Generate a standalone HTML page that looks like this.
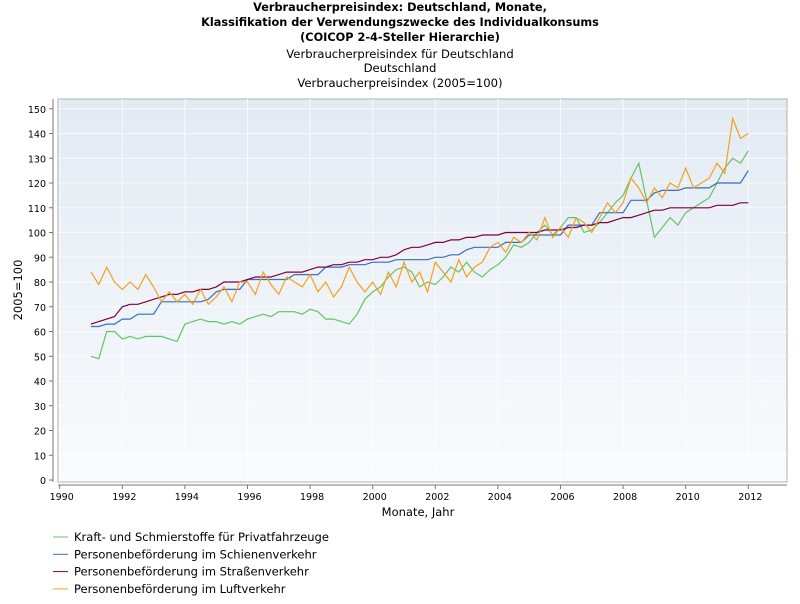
<!DOCTYPE html>
<html><head><meta charset="utf-8"><style>
body{margin:0;background:#fff;font-family:"DejaVu Sans","Liberation Sans",sans-serif;}
svg text{font-family:"DejaVu Sans","Liberation Sans",sans-serif;}
</style></head><body>
<svg id="c" width="800" height="600" xmlns="http://www.w3.org/2000/svg">
<defs><linearGradient id="bg" x1="0" y1="0" x2="0" y2="1"><stop offset="0" stop-color="#e2eaf2"/><stop offset="1" stop-color="#f9fbfd"/></linearGradient></defs>
<g font-size="11.3" font-weight="bold" text-anchor="middle" fill="#000">
<text x="400" y="11">Verbraucherpreisindex: Deutschland, Monate,</text>
<text x="400" y="26">Klassifikation der Verwendungszwecke des Individualkonsums</text>
<text x="400" y="41">(COICOP 2-4-Steller Hierarchie)</text>
</g>
<g font-size="11.6" text-anchor="middle" fill="#000">
<text x="400" y="58">Verbraucherpreisindex für Deutschland</text>
<text x="400" y="72">Deutschland</text>
<text x="400" y="87">Verbraucherpreisindex (2005=100)</text>
</g>
<rect x="58" y="99" width="729" height="383" fill="url(#bg)" stroke="#b0b0b0"/>
<g id="grid"></g><g id="axes"></g><g id="series"></g>
<text transform="translate(22,290) rotate(-90)" font-size="11.5" text-anchor="middle">2005=100</text>
<text x="418" y="516" font-size="11.5" text-anchor="middle">Monate, Jahr</text>
<g id="legend"></g>
</svg>
<script>
const startYear=1991;
const green=[50,49,60,60,57,58,57,58,58,58,57,56,63,64,65,64,64,63,64,63,65,66,67,66,68,68,68,67,69,68,65,65,64,63,67,73,76,78,82,85,86,84,78,80,79,82,86,84,88,84,82,85,87,90,95,94,96,100,103,99,102,106,106,100,101,104,108,112,115,122,128,113,98,102,106,103,108,110,112,114,120,126,130,128,133];
const blue=[62,62,63,63,65,65,67,67,67,72,72,72,72,72,72,73,76,77,77,77,81,81,81,81,81,81,83,83,83,83,86,86,86,87,87,87,88,88,88,89,89,89,89,89,90,90,91,91,93,94,94,94,94,96,96,96,99,99,99,99,99,103,103,103,103,108,108,108,108,113,113,113,116,117,117,117,118,118,118,118,120,120,120,120,125];
const red=[63,64,65,66,70,71,71,72,73,74,75,75,76,76,77,77,78,80,80,80,81,82,82,82,83,84,84,84,85,86,86,87,87,88,88,89,89,90,90,91,93,94,94,95,96,96,97,97,98,98,99,99,99,100,100,100,100,100,101,101,101,102,102,103,103,104,104,105,106,106,107,108,109,109,110,110,110,110,110,110,111,111,111,112,112];
const orange=[84,79,86,80,77,80,77,83,78,72,76,72,75,71,77,71,74,78,72,80,80,75,84,79,75,82,80,78,83,76,80,74,78,86,80,76,80,75,84,78,88,80,84,76,88,84,80,89,82,86,88,94,96,92,98,96,100,97,106,98,102,98,106,104,100,106,112,108,112,122,118,112,118,114,120,118,126,118,120,122,128,124,146,138,140];
const yTicks=[0,10,20,30,40,50,60,70,80,90,100,110,120,130,140,150];
const xTicks=[1990,1992,1994,1996,1998,2000,2002,2004,2006,2008,2010,2012];
const names=["Kraft- und Schmierstoffe für Privatfahrzeuge","Personenbeförderung im Schienenverkehr","Personenbeförderung im Straßenverkehr","Personenbeförderung im Luftverkehr"];
const colors=["#66c266","#3a6cc0","#800040","#f4a020"];
const NS="http://www.w3.org/2000/svg";
const X=t=>59.7+(t-1990)*31.3;
const Y=v=>480-v*2.475;
function mk(tag,attrs,parent){const e=document.createElementNS(NS,tag);for(const k in attrs)e.setAttribute(k,attrs[k]);parent.appendChild(e);return e;}
const grid=document.getElementById('grid'),axes=document.getElementById('axes'),ser=document.getElementById('series'),leg=document.getElementById('legend');
mk('line',{x1:53,y1:99,x2:53,y2:482,stroke:'#777'},axes);
mk('line',{x1:58,y1:485,x2:787,y2:485,stroke:'#777'},axes);
yTicks.forEach(v=>{
 const g=mk('line',{x1:58,x2:787,y1:Y(v),y2:Y(v),stroke:'#ffffff','stroke-opacity':0.7},grid);
 
 mk('line',{x1:49,x2:53,y1:Y(v),y2:Y(v),stroke:'#777'},axes);
 const t=mk('text',{x:46,y:Y(v)+4,'font-size':9.5,'text-anchor':'end'},axes);t.textContent=v;
 
});
xTicks.forEach(v=>{
 const g=mk('line',{y1:99,y2:482,x1:X(v),x2:X(v),stroke:'#ffffff','stroke-opacity':0.7},grid);
 
 mk('line',{y1:485,y2:489,x1:X(v),x2:X(v),stroke:'#777'},axes);
 const t=mk('text',{x:X(v)+2,y:500,'font-size':9.5,'text-anchor':'middle'},axes);t.textContent=v;
 
});
[green,blue,red,orange].forEach((arr,i)=>{
 const pts=arr.map((v,j)=>X(startYear+j*0.25).toFixed(1)+','+Y(v).toFixed(1)).join(' ');
 const p=mk('polyline',{points:pts,fill:'none',stroke:colors[i],'stroke-width':1.2},ser);
 
 
 const ly=537+i*17.3;
 const l=mk('line',{x1:53,x2:68,y1:ly,y2:ly,stroke:colors[i]},leg);
 
 const t=mk('text',{x:74,y:ly+4,'font-size':11.5},leg);t.textContent=names[i];
 
});
</script>
</body></html>
